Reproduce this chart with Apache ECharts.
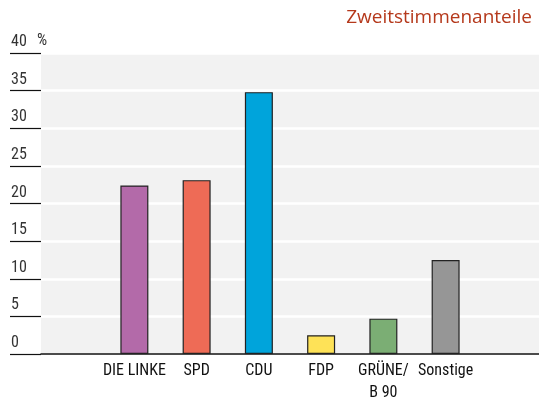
<!DOCTYPE html>
<html><head><meta charset="utf-8">
<script src="https://cdn.jsdelivr.net/npm/echarts@6/dist/echarts.min.js"></script>
<style>html,body{margin:0;padding:0;background:#fff}#c{width:539px;height:404px}</style>
</head><body><div id="c"></div>
<script>
const categories = ['', 'DIE LINKE', 'SPD', 'CDU', 'FDP', 'GRÜNE/\nB 90', 'Sonstige', ''];
const values = [null, 22.4, 23.1, 34.8, 2.5, 4.7, 12.5, null];
const colors = [null, '#b36aa9', '#ee6b56', '#00a4db', '#fee257', '#7bae74', '#969696', null];
const yTicks = [0, 5, 10, 15, 20, 25, 30, 35, 40];
const titleText = 'Zweitstimmenanteile';
const unitText = '%';

const chart = echarts.init(document.getElementById('c'), null, {renderer: 'canvas'});
const narrow = '"Roboto Condensed", "Open Sans", sans-serif';
chart.setOption({
  animation: false,
  title: {
    text: titleText, right: 2, top: 3,
    textStyle: {color: '#b5391c', fontFamily: '"Open Sans", sans-serif', fontSize: 19, fontWeight: 'normal'}
  },
  graphic: [{
    type: 'text', left: 37, top: 33,
    style: {text: unitText, fill: '#333', font: '16px ' + narrow}
  }],
  grid: {left: 41, right: 0, top: 53, bottom: 47.5, show: true, backgroundColor: '#f2f2f2', borderWidth: 0},
  xAxis: {
    type: 'category', data: categories,
    axisTick: {show: false},
    axisLine: {lineStyle: {color: '#111', width: 1.5}},
    axisLabel: {color: '#111', fontFamily: narrow, fontSize: 16, interval: 0, margin: 6, lineHeight: 22}
  },
  yAxis: {
    type: 'value', min: 0, max: 40, interval: 5,
    axisLine: {show: false},
    axisTick: {show: true, length: 31, lineStyle: {color: '#111', width: 1.2}},
    splitLine: {lineStyle: {color: '#fff', width: 2.5}},
    axisLabel: {
      color: '#333', fontFamily: narrow, fontSize: 16,
      align: 'left', verticalAlign: 'bottom', margin: 30, padding: [0, 0, 3, 0],
      formatter: v => yTicks.includes(v) ? String(v) : ''
    }
  },
  series: [{
    type: 'bar', barWidth: 28,
    data: values.map((v, i) => v == null ? null : {value: v, itemStyle: {color: colors[i]}}),
    itemStyle: {borderColor: '#222', borderWidth: 1.2}
  }]
});
</script></body></html>
